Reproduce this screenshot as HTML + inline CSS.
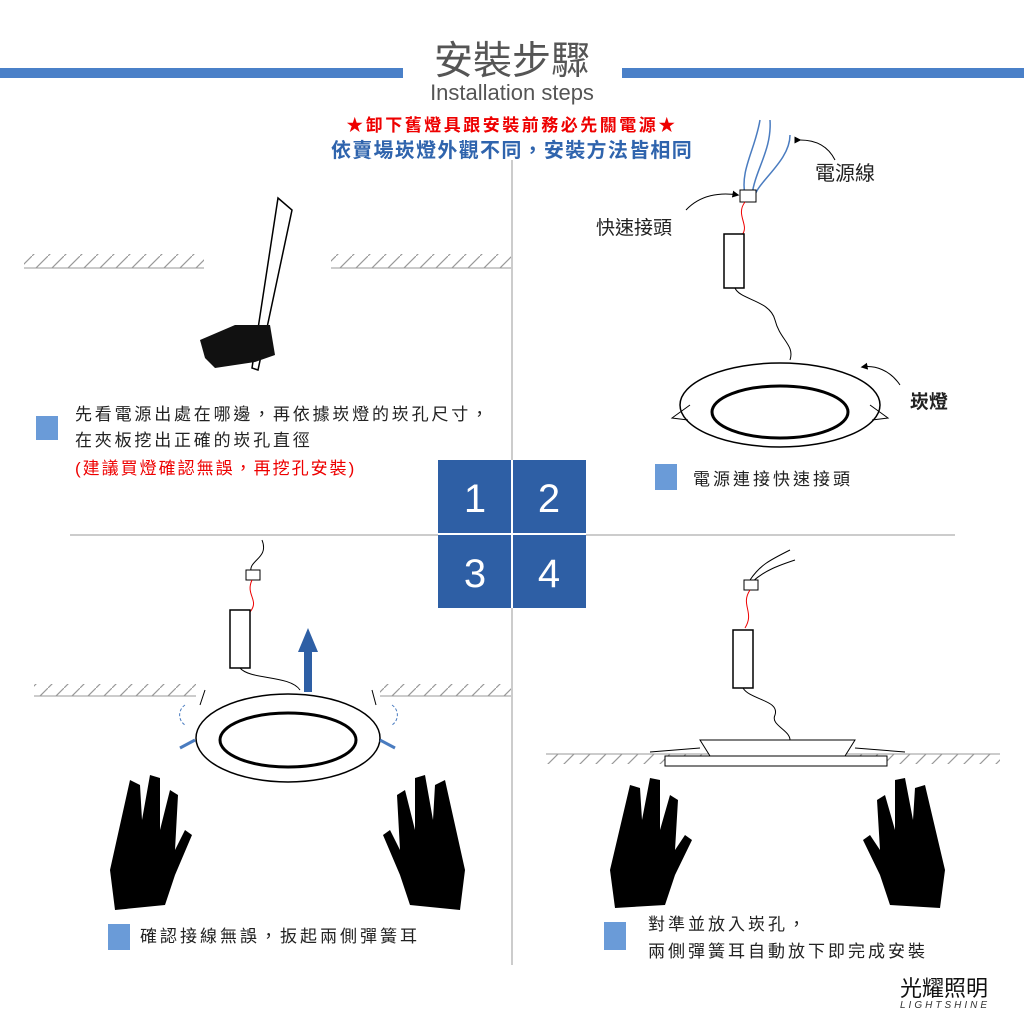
<!DOCTYPE html>
<html><head><meta charset="utf-8"><style>
body{margin:0;background:#fff}
svg{display:block}
text{font-family:"Liberation Sans","Noto Sans CJK TC",sans-serif}
</style></head><body>
<svg width="1024" height="1024" viewBox="0 0 1024 1024" xmlns="http://www.w3.org/2000/svg">
<defs>
<pattern id="h" width="16" height="16" patternUnits="userSpaceOnUse"><line x1="0" y1="16" x2="16" y2="0" stroke="#999" stroke-width="1.2"/></pattern>
<marker id="ar" viewBox="0 0 10 10" refX="8" refY="5" markerWidth="7" markerHeight="7" orient="auto"><path d="M0,0L10,5L0,10z" fill="#000"/></marker>
</defs>
<rect x="0" y="68" width="403" height="10" fill="#4a80c8"/>
<rect x="622" y="68" width="402" height="10" fill="#4a80c8"/>
<text x="512" y="74" font-size="39" fill="#555" text-anchor="middle">安裝步驟</text>
<text x="512" y="100" font-size="22" fill="#555" text-anchor="middle">Installation steps</text>
<text x="512" y="131" font-size="17" fill="#e00" font-weight="bold" text-anchor="middle" letter-spacing="2.5">★卸下舊燈具跟安裝前務必先關電源★</text>
<text x="512" y="157" font-size="20" fill="#2f64ad" font-weight="bold" text-anchor="middle" letter-spacing="1.3">依賣場崁燈外觀不同，安裝方法皆相同</text>
<line x1="512" y1="160" x2="512" y2="965" stroke="#bbb" stroke-width="1.5"/>
<line x1="70" y1="535" x2="955" y2="535" stroke="#bbb" stroke-width="1.5"/>
<!-- step 1 -->
<rect x="24" y="254" width="180" height="14" fill="url(#h)"/><line x1="24" y1="268" x2="204" y2="268" stroke="#999"/>
<rect x="331" y="254" width="180" height="14" fill="url(#h)"/><line x1="331" y1="268" x2="511" y2="268" stroke="#999"/>
<polygon points="278,198 292,210 258,370 252,368" fill="#fff" stroke="#000" stroke-width="1.5"/>
<path d="M200,340 L235,325 L270,325 L275,355 L255,362 L215,368 L205,358z" fill="#111"/>
<rect x="36" y="416" width="22" height="24" fill="#6a9bd8"/>
<text x="75" y="420" font-size="17" fill="#222" letter-spacing="2.8">先看電源出處在哪邊，再依據崁燈的崁孔尺寸，</text>
<text x="75" y="446" font-size="17" fill="#222" letter-spacing="2.8">在夾板挖出正確的崁孔直徑</text>
<text x="75" y="474" font-size="17" fill="#e00" letter-spacing="2">(建議買燈確認無誤，再挖孔安裝)</text>
<!-- grid -->
<rect x="438" y="460" width="148" height="148" fill="#2e5fa5"/>
<line x1="512" y1="460" x2="512" y2="608" stroke="#fff" stroke-width="2"/>
<line x1="438" y1="534" x2="586" y2="534" stroke="#fff" stroke-width="2"/>
<g font-size="40" fill="#fff" text-anchor="middle"><text x="475" y="512">1</text><text x="549" y="512">2</text><text x="475" y="587">3</text><text x="549" y="587">4</text></g>
<!-- step 2 -->
<path d="M760,120 C755,150 740,170 745,195 M770,120 C772,150 755,170 752,195 M790,135 C790,160 760,180 755,195" stroke="#4a7cc0" fill="none" stroke-width="1.5"/>
<rect x="740" y="190" width="16" height="12" fill="#fff" stroke="#000"/>
<path d="M745,202 C735,215 750,225 742,235" stroke="#e00" fill="none"/>
<rect x="724" y="234" width="20" height="54" fill="#fff" stroke="#000" stroke-width="1.5"/>
<path d="M735,288 C740,300 770,300 775,320 C780,340 795,345 790,360" stroke="#000" fill="none"/>
<path d="M800,140 C820,140 830,150 835,160" stroke="#000" fill="none" marker-start="url(#ar)"/>
<text x="815" y="180" font-size="20" fill="#222">電源線</text>
<path d="M686,210 C700,195 720,192 738,195" stroke="#000" fill="none" marker-end="url(#ar)"/>
<text x="596" y="234" font-size="19" fill="#222">快速接頭</text>
<path d="M900,385 C890,370 875,365 862,367" stroke="#000" fill="none" marker-end="url(#ar)"/>
<text x="910" y="408" font-size="19" font-weight="bold" fill="#222">崁燈</text>
<ellipse cx="780" cy="405" rx="100" ry="42" fill="#fff" stroke="#000" stroke-width="1.5"/>
<ellipse cx="780" cy="412" rx="68" ry="26" fill="#fff" stroke="#000" stroke-width="3"/>
<path d="M690,405 L672,418 L688,420 M870,405 L888,418 L872,420" stroke="#000" fill="none"/>
<rect x="655" y="464" width="22" height="26" fill="#6a9bd8"/>
<text x="693" y="485" font-size="17" fill="#222" letter-spacing="3">電源連接快速接頭</text>
<!-- step 3 -->
<rect x="34" y="684" width="162" height="12" fill="url(#h)"/><line x1="34" y1="696" x2="196" y2="696" stroke="#999"/>
<rect x="380" y="684" width="131" height="12" fill="url(#h)"/><line x1="380" y1="696" x2="511" y2="696" stroke="#999"/>
<path d="M262,540 C270,560 245,560 252,575" stroke="#000" fill="none"/>
<rect x="246" y="570" width="14" height="10" fill="#fff" stroke="#000"/>
<path d="M252,580 C245,595 260,600 250,612" stroke="#e00" fill="none"/>
<rect x="230" y="610" width="20" height="58" fill="#fff" stroke="#000" stroke-width="1.5"/>
<path d="M240,668 C250,680 290,675 300,690" stroke="#000" fill="none"/>
<polygon points="308,628 298,652 304,652 304,692 312,692 312,652 318,652" fill="#2e5fa5"/>
<ellipse cx="288" cy="738" rx="92" ry="44" fill="#fff" stroke="#000" stroke-width="1.5"/>
<ellipse cx="288" cy="740" rx="68" ry="27" fill="#fff" stroke="#000" stroke-width="3"/>
<path d="M200,705 L205,690 M376,705 L372,690" stroke="#000"/>
<path d="M185,705 A12,12 0 0 0 185,725 M392,705 A12,12 0 0 1 392,725" stroke="#4a7cc0" fill="none" stroke-dasharray="3,2"/>
<path d="M180,748 L195,740 M395,748 L380,740" stroke="#4a7cc0" stroke-width="3"/>
<path d="M110,870 L130,780 L140,785 L142,820 L150,775 L160,778 L160,830 L170,790 L178,795 L175,850 L185,830 L192,835 L175,875 L165,905 L115,910z" fill="#000"/>
<path d="M465,870 L445,780 L435,785 L433,820 L425,775 L415,778 L415,830 L405,790 L397,795 L400,850 L390,830 L383,835 L400,875 L410,905 L460,910z" fill="#000"/>
<rect x="108" y="924" width="22" height="26" fill="#6a9bd8"/>
<text x="140" y="942" font-size="17" fill="#222" letter-spacing="3">確認接線無誤，扳起兩側彈簧耳</text>
<!-- step 4 -->
<rect x="546" y="754" width="454" height="10" fill="url(#h)"/><line x1="546" y1="754" x2="1000" y2="754" stroke="#999"/>
<path d="M790,550 C770,560 760,565 750,580 M795,560 C780,565 765,570 752,582" stroke="#000" fill="none"/>
<rect x="744" y="580" width="14" height="10" fill="#fff" stroke="#000"/>
<path d="M750,590 C740,605 755,612 745,628" stroke="#e00" fill="none"/>
<rect x="733" y="630" width="20" height="58" fill="#fff" stroke="#000" stroke-width="1.5"/>
<path d="M743,688 C750,700 780,700 775,715 C770,725 790,730 790,740" stroke="#000" fill="none"/>
<path d="M700,740 L855,740 L845,756 L710,756z" fill="#fff" stroke="#000"/>
<rect x="665" y="756" width="222" height="10" fill="#fff" stroke="#000"/>
<path d="M700,748 L650,752 M855,748 L905,752" stroke="#000"/>
<path d="M610,870 L630,785 L640,788 L642,820 L650,778 L660,780 L660,830 L670,795 L678,800 L675,850 L685,835 L692,840 L675,875 L665,905 L615,908z" fill="#000"/>
<path d="M945,870 L925,785 L915,788 L913,820 L905,778 L895,780 L895,830 L885,795 L877,800 L880,850 L870,835 L863,840 L880,875 L890,905 L940,908z" fill="#000"/>
<rect x="604" y="922" width="22" height="28" fill="#6a9bd8"/>
<text x="648" y="930" font-size="17" fill="#222" letter-spacing="3">對準並放入崁孔，</text>
<text x="648" y="957" font-size="17" fill="#222" letter-spacing="3">兩側彈簧耳自動放下即完成安裝</text>
<text x="900" y="996" font-size="22" fill="#111">光耀照明</text>
<text x="900" y="1008" font-size="10" font-style="italic" fill="#333" letter-spacing="3">LIGHTSHINE</text>
</svg>
</body></html>
